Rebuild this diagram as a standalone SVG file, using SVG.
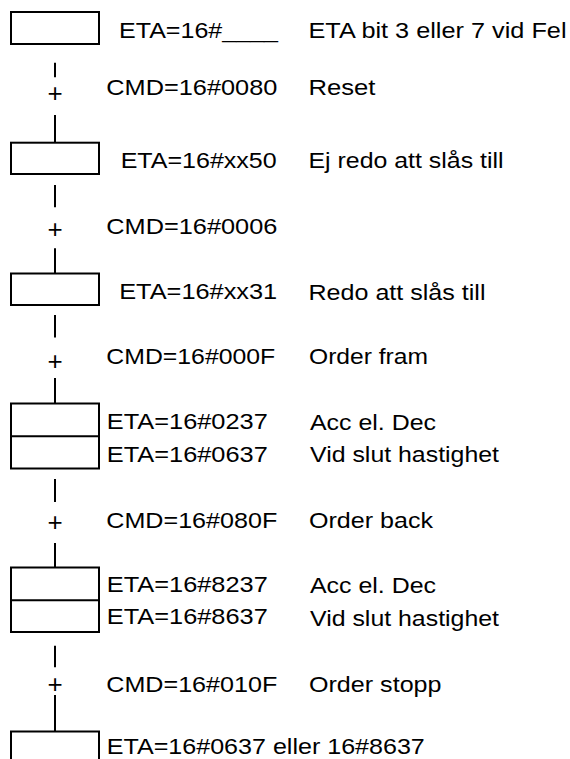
<svg xmlns="http://www.w3.org/2000/svg" width="570" height="759" viewBox="0 0 570 759">
<style>
.box{fill:#fff;stroke:#000;stroke-width:2}
.ln{stroke:#000;stroke-width:2;fill:none}
text{font-family:"Liberation Sans",Arial,sans-serif;font-size:22.5px;fill:#000}
.pl{text-anchor:middle;font-size:26px}
</style>
<rect width="570" height="759" fill="#fff"/>
<g id="connectors">
<line class="ln" x1="55" y1="62.7" x2="55" y2="77.3"/>
<text class="pl" x="55" y="101.5">+</text>
<line class="ln" x1="55" y1="115" x2="55" y2="142.7"/>
<line class="ln" x1="55" y1="185" x2="55" y2="207.3"/>
<text class="pl" x="55" y="237.5">+</text>
<line class="ln" x1="55" y1="248.3" x2="55" y2="273.5"/>
<line class="ln" x1="55" y1="315" x2="55" y2="337.5"/>
<text class="pl" x="55" y="370">+</text>
<line class="ln" x1="55" y1="378" x2="55" y2="403.5"/>
<line class="ln" x1="55" y1="479" x2="55" y2="502"/>
<text class="pl" x="55" y="530.5">+</text>
<line class="ln" x1="55" y1="543" x2="55" y2="567.5"/>
<line class="ln" x1="55" y1="645.7" x2="55" y2="667.3"/>
<text class="pl" x="55" y="693">+</text>
<line class="ln" x1="55" y1="695" x2="55" y2="731.5"/>
</g>
<g id="step1">
<rect class="box" x="11" y="12" width="88" height="32"/>
<text x="119" y="37.5" textLength="159" lengthAdjust="spacingAndGlyphs">ETA=16#____</text>
<text x="308.5" y="37.5" textLength="258" lengthAdjust="spacingAndGlyphs">ETA bit 3 eller 7 vid Fel</text>
</g>
<g id="trans1">
<text x="106.3" y="95" textLength="171" lengthAdjust="spacingAndGlyphs">CMD=16#0080</text>
<text x="308.5" y="95" textLength="67" lengthAdjust="spacingAndGlyphs">Reset</text>
</g>
<g id="step2">
<rect class="box" x="11" y="142.7" width="88" height="31.3"/>
<text x="120.7" y="168.3" textLength="156" lengthAdjust="spacingAndGlyphs">ETA=16#xx50</text>
<text x="308.5" y="168.3" textLength="195" lengthAdjust="spacingAndGlyphs">Ej redo att slås till</text>
</g>
<g id="trans2">
<text x="106.3" y="234" textLength="171" lengthAdjust="spacingAndGlyphs">CMD=16#0006</text>
</g>
<g id="step3">
<rect class="box" x="11" y="273.5" width="88" height="31.5"/>
<text x="119.2" y="299" textLength="158" lengthAdjust="spacingAndGlyphs">ETA=16#xx31</text>
<text x="308.5" y="300" textLength="177" lengthAdjust="spacingAndGlyphs">Redo att slås till</text>
</g>
<g id="trans3">
<text x="106.3" y="364" textLength="169" lengthAdjust="spacingAndGlyphs">CMD=16#000F</text>
<text x="309" y="364" textLength="119" lengthAdjust="spacingAndGlyphs">Order fram</text>
</g>
<g id="step4">
<rect class="box" x="11" y="403.5" width="88" height="65"/>
<line class="ln" x1="11" y1="436.3" x2="99" y2="436.3"/>
<text x="106.8" y="429" textLength="161" lengthAdjust="spacingAndGlyphs">ETA=16#0237</text>
<text x="106.8" y="461.7" textLength="161" lengthAdjust="spacingAndGlyphs">ETA=16#0637</text>
<text x="310" y="430" textLength="126" lengthAdjust="spacingAndGlyphs">Acc el. Dec</text>
<text x="310" y="461.7" textLength="189" lengthAdjust="spacingAndGlyphs">Vid slut hastighet</text>
</g>
<g id="trans4">
<text x="106.3" y="528.3" textLength="171" lengthAdjust="spacingAndGlyphs">CMD=16#080F</text>
<text x="309" y="528.3" textLength="124" lengthAdjust="spacingAndGlyphs">Order back</text>
</g>
<g id="step5">
<rect class="box" x="11" y="567.5" width="88" height="64.5"/>
<line class="ln" x1="11" y1="600.3" x2="99" y2="600.3"/>
<text x="106.8" y="592" textLength="161" lengthAdjust="spacingAndGlyphs">ETA=16#8237</text>
<text x="106.8" y="624.3" textLength="161" lengthAdjust="spacingAndGlyphs">ETA=16#8637</text>
<text x="310" y="593.3" textLength="126" lengthAdjust="spacingAndGlyphs">Acc el. Dec</text>
<text x="310" y="626" textLength="189" lengthAdjust="spacingAndGlyphs">Vid slut hastighet</text>
</g>
<g id="trans5">
<text x="106.3" y="691.7" textLength="171" lengthAdjust="spacingAndGlyphs">CMD=16#010F</text>
<text x="309" y="691.7" textLength="132.5" lengthAdjust="spacingAndGlyphs">Order stopp</text>
</g>
<g id="step6">
<rect class="box" x="11" y="731.5" width="88" height="40"/>
<text x="106.8" y="754" textLength="318" lengthAdjust="spacingAndGlyphs">ETA=16#0637 eller 16#8637</text>
</g>
</svg>
